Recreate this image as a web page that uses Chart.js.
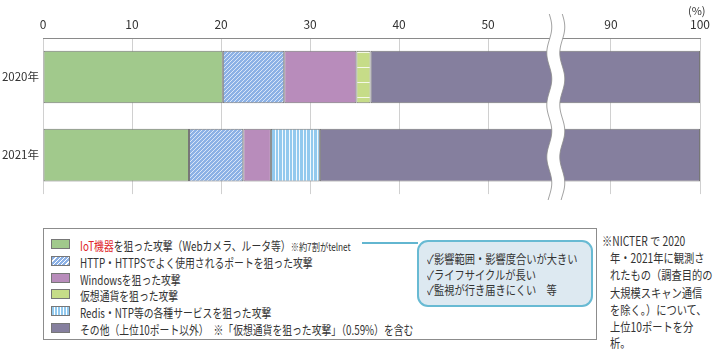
<!DOCTYPE html>
<html>
<head>
<meta charset="utf-8">
<script src="https://cdn.jsdelivr.net/npm/chart.js@4.4.1/dist/chart.umd.min.js"></script>
<style>
  body { margin: 0; background: #fff; font-family: "Noto Sans CJK JP", sans-serif; color: #333; }
  #page { position: relative; width: 716px; height: 350px; overflow: hidden; }
  #chart { position: absolute; left: 0; top: 0; }
  .abs { position: absolute; }
  .cond { display: inline-block; transform: scaleX(0.82); transform-origin: 0 50%; white-space: nowrap; font-size: 12.5px; }
  #legend .cond { transform: scaleX(0.785); }
  #legend { left: 43px; top: 228px; width: 554px; height: 112px; border: 1px solid #8c8c8c; box-sizing: border-box; }
  .row { position: absolute; left: 7px; height: 16px; line-height: 16px; width: 540px; }
  .ico { position: absolute; left: 0; top: 3px; width: 19px; height: 10px; border: 1px solid #777; box-sizing: border-box; }
  .txt { position: absolute; left: 29px; top: 0; }
  .red { color: #e0262a; }
  .small { font-size: 10.5px; }
  #callout { left: 417px; top: 240px; width: 176px; height: 67px; border: 2px solid #68bad3; border-radius: 11px; background: #dde9f1; box-sizing: border-box; }
  #callout div { position: absolute; left: 8px; height: 15px; line-height: 15px; }
  #note div { position: absolute; height: 17px; line-height: 17px; }
</style>
</head>
<body>
<div id="page">
  <canvas id="chart" width="716" height="205"></canvas>
  <div class="abs" style="left:688px;top:2px;font-size:11px;">(%)</div>

  <div id="legend" class="abs"></div>
  <div class="abs" style="left:362px;top:242px;width:56px;height:2px;background:#62b6d0;"></div>
  <div id="callout" class="abs">
    <div style="top:8px"><span class="cond">✓影響範囲・影響度合いが大きい</span></div>
    <div style="top:24px"><span class="cond">✓ライフサイクルが長い</span></div>
    <div style="top:39px"><span class="cond">✓監視が行き届きにくい　等</span></div>
  </div>
  <div id="note" class="abs" style="left:0;top:0;">
    <div style="left:602px;top:231px"><span class="cond">※NICTER で 2020</span></div>
    <div style="left:610px;top:248px"><span class="cond">年・2021年に観測さ</span></div>
    <div style="left:610px;top:265px"><span class="cond">れたもの（調査目的の</span></div>
    <div style="left:610px;top:283px"><span class="cond">大規模スキャン通信</span></div>
    <div style="left:610px;top:300px"><span class="cond">を除く。）について、</span></div>
    <div style="left:610px;top:317px"><span class="cond">上位10ポートを分</span></div>
    <div style="left:610px;top:333px"><span class="cond">析。</span></div>
  </div>
</div>
<script>
const years = ["2020年", "2021年"];
const seriesNames = [
    "IoT機器を狙った攻撃（Webカメラ、ルータ等）",
    "HTTP・HTTPSでよく使用されるポートを狙った攻撃",
    "Windowsを狙った攻撃",
    "仮想通貨を狙った攻撃",
    "Redis・NTP等の各種サービスを狙った攻撃",
    "その他（上位10ポート以外）"
];
const iot = [20.2, 16.4];
const http = [6.9, 6.1];
const windows = [8.1, 3.1];
const crypto = [1.6, null];
const redis = [null, 5.5];
const other = [63.2, 68.9];
const xTicks = [0, 10, 20, 30, 40, 50, 90, 100];

// axis break: values between breakStart and breakEnd are cut out
const breakStart = 57.6;
const breakEnd = 83.8;
const gap = breakEnd - breakStart;

function toDisplay(v) {
    if (v <= breakStart) return v;
    if (v >= breakEnd) return v - gap;
    return breakStart;
}

class BrokenScale extends Chart.LinearScale {
    getPixelForValue(value) {
        if (value === null || value === undefined) return NaN;
        return this.getPixelForDecimal(toDisplay(value) / toDisplay(this.max));
    }
    getValueForPixel(pixel) {
        const d = this.getDecimalForPixel(pixel) * toDisplay(this.max);
        return d <= breakStart ? d : d + gap;
    }
}
BrokenScale.id = 'broken';
BrokenScale.defaults = Chart.LinearScale.defaults;
Chart.register(BrokenScale);

function makePattern(w, h, base, draw) {
    const c = document.createElement('canvas');
    c.width = w;
    c.height = h;
    const g = c.getContext('2d');
    g.fillStyle = base;
    g.fillRect(0, 0, w, h);
    draw(g);
    return g.createPattern(c, 'repeat');
}

const hatch = makePattern(4, 4, '#8cb1e5', g => {
    g.strokeStyle = 'rgba(255,255,255,0.75)';
    g.lineWidth = 0.9;
    g.beginPath();
    g.moveTo(-1, 5); g.lineTo(5, -1);
    g.moveTo(-1, 1); g.lineTo(1, -1);
    g.moveTo(3, 5); g.lineTo(5, 3);
    g.stroke();
});
const cryptoFill = makePattern(4, 15, '#c6dc88', g => {
    g.fillStyle = '#f4f8e6';
    g.fillRect(0, 7, 4, 1);
});
const redisFill = makePattern(7, 4, '#92c9ee', g => {
    g.fillStyle = '#f2f9fe';
    g.fillRect(2, 0, 1, 4);
    g.fillRect(5, 0, 1, 4);
});

const colors = ['#a1c98c', hatch, '#b88cbb', cryptoFill, redisFill, '#857f9e'];
const cssIcons = [
    '#a1c98c',
    'repeating-linear-gradient(-45deg, #8cb1e5 0 2px, #fff 2px 3px)',
    '#b88cbb',
    '#c6dc88',
    'repeating-linear-gradient(90deg, #92c9ee 0 2px, #fff 2px 3px)',
    '#857f9e'
];
const seriesData = [iot, http, windows, crypto, redis, other];

// wavy white band that marks the axis break
const breakMark = {
    id: 'breakMark',
    afterDatasetsDraw(chart) {
        const ctx = chart.ctx;
        const cx = chart.scales.x.getPixelForValue(breakStart);
        const top = 14, bottom = 201;
        const half = 6.5, amp = 2.5, period = 52;
        const edge = (off) => {
            const pts = [];
            for (let y = top; y <= bottom; y += 2) {
                pts.push([cx + off + amp * Math.sin((y - top) / period * 2 * Math.PI), y]);
            }
            return pts;
        };
        const left = edge(-half), right = edge(half);
        ctx.save();
        ctx.beginPath();
        left.forEach((p, i) => i ? ctx.lineTo(p[0], p[1]) : ctx.moveTo(p[0], p[1]));
        right.slice().reverse().forEach(p => ctx.lineTo(p[0], p[1]));
        ctx.closePath();
        ctx.fillStyle = '#ffffff';
        ctx.fill();
        ctx.strokeStyle = '#8a8a8a';
        ctx.lineWidth = 0.8;
        [left, right].forEach(pts => {
            ctx.beginPath();
            pts.forEach((p, i) => i ? ctx.lineTo(p[0], p[1]) : ctx.moveTo(p[0], p[1]));
            ctx.stroke();
        });
        ctx.restore();
    }
};

new Chart(document.getElementById('chart'), {
    type: 'bar',
    data: {
        labels: years,
        datasets: seriesNames.map((name, i) => ({
            label: name,
            data: seriesData[i],
            backgroundColor: colors[i],
            borderColor: '#777777',
            borderWidth: 1,
            borderSkipped: false,
            barPercentage: 0.675,
            categoryPercentage: 1
        }))
    },
    options: {
        indexAxis: 'y',
        responsive: false,
        animation: false,
        layout: { padding: { top: 0, right: 16, bottom: 3, left: 0 } },
        scales: {
            x: {
                type: 'broken',
                position: 'top',
                stacked: true,
                min: 0,
                max: 100,
                afterBuildTicks: s => { s.ticks = xTicks.map(v => ({ value: v })); },
                afterFit: s => { s.height = 38; },
                grid: { color: '#d0d0d0', drawTicks: false },
                border: { color: '#8a8a8a' },
                ticks: {
                    autoSkip: false,
                    maxRotation: 0,
                    padding: 6,
                    color: '#333',
                    font: { family: 'Noto Sans CJK JP', size: 12 },
                    callback: v => v
                }
            },
            y: {
                stacked: true,
                afterFit: s => { s.width = 43; },
                grid: { display: false, drawTicks: false },
                border: { display: false },
                ticks: {
                    padding: 4,
                    color: '#333',
                    font: { family: 'Noto Sans CJK JP', size: 11.5 }
                }
            }
        },
        plugins: {
            legend: { display: false },
            tooltip: { enabled: false }
        }
    },
    plugins: [breakMark]
});

// legend rows, built from the series names
const legend = document.getElementById('legend');
const rowTops = [7, 24, 41, 57, 74, 91];
seriesNames.forEach((name, i) => {
    const row = document.createElement('div');
    row.className = 'row';
    row.style.top = rowTops[i] + 'px';
    let label = name;
    if (i === 0) {
        label = '<span class="red">IoT機器</span>' + name.slice(5) + '<span class="small">※約7割がtelnet</span>';
    }
    if (i === 5) {
        label = name + '　※「仮想通貨を狙った攻撃」（0.59%）を含む';
    }
    row.innerHTML = '<div class="ico" style="background:' + cssIcons[i] + '"></div>' +
        '<div class="txt"><span class="cond">' + label + '</span></div>';
    legend.appendChild(row);
});
</script>
</body>
</html>
